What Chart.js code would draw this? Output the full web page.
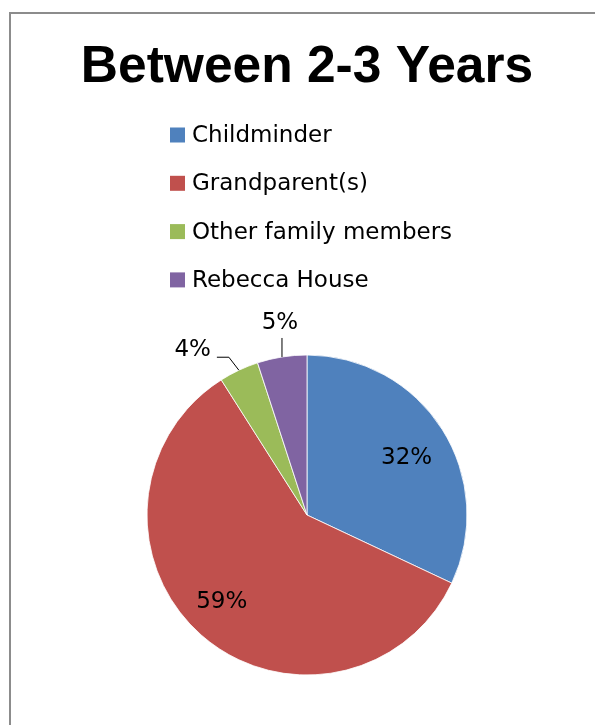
<!DOCTYPE html>
<html>
<head>
<meta charset="utf-8">
<script src="https://cdn.jsdelivr.net/npm/chart.js@4/dist/chart.umd.min.js"></script>
<style>
  html, body { margin: 0; padding: 0; background: #ffffff; overflow: hidden; }
  #frame { position: absolute; left: 9px; top: 12px; width: 620px; height: 760px;
           border-left: 2px solid #8c8c8c; border-top: 2px solid #8c8c8c; }
  #wrap { position: absolute; left: 0; top: 0; width: 595px; height: 725px; }
</style>
</head>
<body>
<div id="frame"></div>
<div id="wrap"><canvas id="c" width="595" height="725"></canvas></div>
<script>
// ---- data ----
const chartTitle = 'Between 2-3 Years';
const categories = ['Childminder', 'Grandparent(s)', 'Other family members', 'Rebecca House'];
const shares = [32, 59, 4, 5];            // percent
const sliceColors = ['#4F81BD', '#C0504D', '#9BBB59', '#8064A2'];

// ---- style ----
const TEXT_FONT = '"DejaVu Sans", sans-serif';
const TEXT_SIZE = 23;
const legendStyle = { boxX: 170, box: 15, textX: 192, firstY: 134.5, step: 48.3, textDy: 1.5 };
const insideFrac = 0.73;
const insideNudge = { 0: [1, 6], 1: [-8, -1] };
const outsideLabels = {
  2: { elbow: [-10, -13], run: -12, textDx: -6, textDy: -7, align: 'right' },
  3: { elbow: [0, -19], run: 0, textDx: -2, textDy: -15, align: 'center' }
};

const legendPlugin = {
  id: 'vertLegend',
  afterDraw(chart) {
    const ctx = chart.ctx;
    const ds = chart.data.datasets[0];
    ctx.save();
    ctx.font = TEXT_SIZE + 'px ' + TEXT_FONT;
    ctx.textBaseline = 'middle';
    ctx.textAlign = 'left';
    chart.data.labels.forEach((lab, i) => {
      const y = legendStyle.firstY + i * legendStyle.step;
      ctx.fillStyle = ds.backgroundColor[i];
      ctx.fillRect(legendStyle.boxX, y - legendStyle.box / 2 + 0.5, legendStyle.box, legendStyle.box);
      ctx.fillStyle = '#000000';
      ctx.fillText(lab, legendStyle.textX, y + legendStyle.textDy);
    });
    ctx.restore();
  }
};

const pctLabelPlugin = {
  id: 'pctLabels',
  afterDatasetsDraw(chart) {
    const ctx = chart.ctx;
    const meta = chart.getDatasetMeta(0);
    const values = chart.data.datasets[0].data;
    ctx.save();
    ctx.font = TEXT_SIZE + 'px ' + TEXT_FONT;
    ctx.fillStyle = '#000000';
    ctx.strokeStyle = '#000000';
    ctx.lineWidth = 1;
    ctx.textBaseline = 'middle';
    meta.data.forEach((arc, i) => {
      const p = arc.getProps(['x', 'y', 'startAngle', 'endAngle', 'outerRadius'], true);
      const mid = (p.startAngle + p.endAngle) / 2;
      const txt = values[i] + '%';
      const cfg = outsideLabels[i];
      if (!cfg) {
        const r = p.outerRadius * insideFrac;
        const nd = insideNudge[i] || [0, 0];
        ctx.textAlign = 'center';
        ctx.fillText(txt, p.x + Math.cos(mid) * r + nd[0], p.y + Math.sin(mid) * r + nd[1]);
      } else {
        const ax = p.x + Math.cos(mid) * p.outerRadius;
        const ay = p.y + Math.sin(mid) * p.outerRadius;
        const ex = ax + cfg.elbow[0], ey = ay + cfg.elbow[1];
        const fx = ex + cfg.run, fy = ey;
        ctx.beginPath();
        ctx.moveTo(ax, ay);
        ctx.lineTo(ex, ey);
        ctx.lineTo(fx, fy);
        ctx.stroke();
        ctx.textAlign = cfg.align;
        ctx.fillText(txt, fx + cfg.textDx, fy + cfg.textDy);
      }
    });
    ctx.restore();
  }
};

new Chart(document.getElementById('c'), {
  type: 'pie',
  data: {
    labels: categories,
    datasets: [{
      data: shares,
      backgroundColor: sliceColors,
      borderColor: 'rgba(255,255,255,0.8)',
      borderWidth: 1,
      radius: 160
    }]
  },
  options: {
    responsive: false,
    animation: false,
    events: [],
    layout: { padding: { left: 19, right: 0, top: 0, bottom: 50 } },
    plugins: {
      legend: { display: false },
      tooltip: { enabled: false },
      title: {
        display: true,
        text: chartTitle,
        color: '#000000',
        font: { family: '"Liberation Sans", Arial, sans-serif', size: 51.5, weight: 'bold', lineHeight: 1.2 },
        padding: { top: 36.5, bottom: 256.7 }
      }
    }
  },
  plugins: [legendPlugin, pctLabelPlugin]
});
</script>
</body>
</html>
